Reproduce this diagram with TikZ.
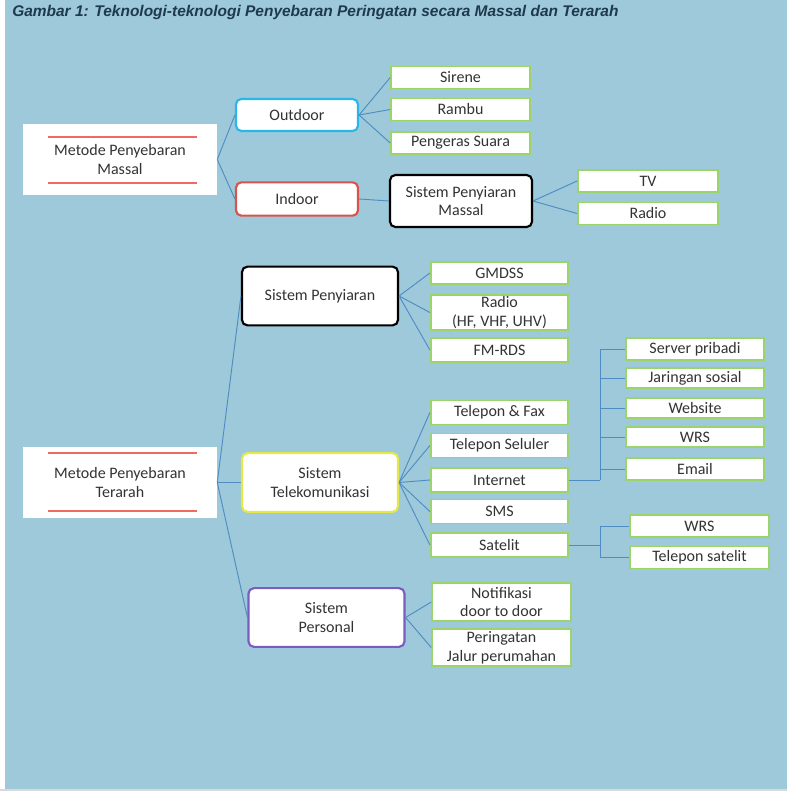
\documentclass[tikz,border=0pt]{standalone}
\usepackage{fontspec}
\setmainfont{Carlito}
\newfontfamily\captionfont{Liberation Sans}
\usetikzlibrary{calc}
\definecolor{bgblue}{HTML}{9DC9DA}
\definecolor{linkblue}{HTML}{4F8CC2}
\definecolor{leafgreen}{HTML}{9BD46A}
\definecolor{outcyan}{HTML}{29B6E8}
\definecolor{inred}{HTML}{D9534A}
\definecolor{telyellow}{HTML}{E6E84A}
\definecolor{perpurple}{HTML}{7B5CC0}
\definecolor{textgray}{HTML}{333333}
\definecolor{rulered}{HTML}{EE6A64}
\definecolor{titleink}{HTML}{1F3A4D}

\begin{document}
\begin{tikzpicture}[x=0.75pt, y=-0.75pt,
                every node/.style={font=\fontsize{12}{14}\selectfont, text=textgray,
                  align=center, inner sep=0pt},
                link/.style={draw=linkblue, line width=0.7pt},
                rootbox/.style={fill=white, minimum width=145.5pt, minimum height=53.25pt},
                redrule/.style={draw=rulered, line width=1.5pt},
                branch/.style={draw=#1, fill=white, line width=1.6pt, rounded corners=4pt,
                  minimum width=117pt, minimum height=44pt},
                leaf/.style={draw=leafgreen, fill=white, line width=1.4pt,
                  minimum width=104pt, minimum height=16.5pt},
              ]
              \useasboundingbox (0,0) rectangle (787,791);
              \fill[white] (0,0) rectangle (787,791);
              \fill[black!15] (0,788.5) rectangle (787,791);
              \fill[bgblue] (5,0) rectangle (787,789);

              \node [anchor=west, font=\captionfont\bfseries\itshape\fontsize{11.6}{13}\selectfont, text=titleink]
                at (12,13) (title) {Gambar 1: Teknologi-teknologi Penyebaran Peringatan secara Massal dan Terarah};

              % massal
              \node [rootbox] at (120,159.5) (massal) {Metode Penyebaran\\Massal};
              \draw [redrule] ($(massal.north west)+(25,13)$) -- ($(massal.north east)+(-20,13)$);
              \draw [redrule] ($(massal.south west)+(25,-12)$) -- ($(massal.south east)+(-20,-12)$);
              \node [branch=outcyan, minimum width=91.5pt, minimum height=24pt] at (297,115) (outdoor) {Outdoor};
              \node [branch=inred, minimum width=91.5pt, minimum height=25pt] at (297,199) (indoor) {Indoor};
              \node [leaf] at (460.5,77.5) (sirene) {Sirene};
              \node [leaf] at (460.5,109.5) (rambu) {Rambu};
              \node [leaf] at (460.5,143) (pengeras) {Pengeras Suara};
              \node [branch=black, minimum width=106.5pt, minimum height=39pt] at (461,201) (spmassal) {Sistem Penyiaran\\Massal};
              \node [leaf, minimum width=105pt] at (648,181) (tv) {TV};
              \node [leaf, minimum width=105pt] at (648,213.5) (radiom) {Radio};

              \draw [link] (massal.east) -- (outdoor.west);
              \draw [link] (massal.east) -- (indoor.west);
              \draw [link] (outdoor.east) -- (sirene.west);
              \draw [link] (outdoor.east) -- (rambu.west);
              \draw [link] (outdoor.east) -- (pengeras.west);
              \draw [link] (indoor.east) -- (spmassal.west);
              \draw [link] (spmassal.east) -- (tv.west);
              \draw [link] (spmassal.east) -- (radiom.west);

              % terarah
              \node [rootbox] at (120,482.5) (terarah) {Metode Penyebaran\\Terarah};
              \draw [redrule] ($(terarah.north west)+(25,6)$) -- ($(terarah.north east)+(-20,6)$);
              \draw [redrule] ($(terarah.south west)+(25,-7)$) -- ($(terarah.south east)+(-20,-7)$);
              \node [branch=black] at (320,296) (penyiaran) {Sistem Penyiaran};
              \node [branch=telyellow] at (320,482.5) (telekom) {Sistem\\Telekomunikasi};
              \node [branch=perpurple] at (326.5,617.5) (personal) {Sistem\\Personal};

              \node [leaf, minimum width=103pt] at (499.5,273) (gmdss) {GMDSS};
              \node [leaf, minimum width=103pt, minimum height=26pt] at (499.5,312.5) (radiot) {Radio\\(HF, VHF, UHV)};
              \node [leaf, minimum width=103pt, minimum height=18pt] at (499.5,350) (fmrds) {FM-RDS};

              \node [leaf, minimum width=103pt, minimum height=18pt] at (499.5,412.5) (fax) {Telepon \& Fax};
              \node [leaf, minimum width=103pt, minimum height=18pt] at (499.5,445.5) (seluler) {Telepon Seluler};
              \node [leaf, minimum width=103pt, minimum height=18pt] at (499.5,480) (internet) {Internet};
              \node [leaf, minimum width=103pt, minimum height=18pt] at (499.5,511.5) (sms) {SMS};
              \node [leaf, minimum width=103pt, minimum height=18pt] at (499.5,545) (satelit) {Satelit};

              \node [leaf, minimum width=104pt, minimum height=28.5pt] at (501.5,602) (notif) {Notifikasi\\door to door};
              \node [leaf, minimum width=104pt, minimum height=28pt] at (501.5,647.5) (jalur) {Peringatan\\Jalur perumahan};

              \node [leaf, minimum width=103.5pt] at (695,349) (server) {Server pribadi};
              \node [leaf, minimum width=103.5pt, minimum height=15pt] at (695,378) (sosial) {Jaringan sosial};
              \node [leaf, minimum width=103.5pt, minimum height=15pt] at (695,408) (website) {Website};
              \node [leaf, minimum width=103.5pt, minimum height=15pt] at (695,437) (wrsnet) {WRS};
              \node [leaf, minimum width=103.5pt] at (695,469) (email) {Email};

              \node [leaf] at (699.5,526) (wrssat) {WRS};
              \node [leaf] at (699.5,557.5) (telsat) {Telepon satelit};

              \draw [link] (terarah.east) -- (penyiaran.west);
              \draw [link] (terarah.east) -- (telekom.west);
              \draw [link] (terarah.east) -- (personal.west);
              \foreach \n in {gmdss, radiot, fmrds}
                \draw [link] (penyiaran.east) -- (\n.west);
              \foreach \n in {fax, seluler, internet, sms, satelit}
                \draw [link] (telekom.east) -- (\n.west);
              \foreach \n in {notif, jalur}
                \draw [link] (personal.east) -- (\n.west);

              \coordinate (netbus) at (600,480);
              \draw [link] (internet.east) -- (netbus);
              \foreach \n in {server, sosial, website, wrsnet, email}
                \draw [link] (netbus) |- (\n.west);
              \coordinate (satbus) at (600,545);
              \draw [link] (satelit.east) -- (satbus);
              \foreach \n in {wrssat, telsat}
                \draw [link] (satbus) |- (\n.west);
\end{tikzpicture}
\end{document}
